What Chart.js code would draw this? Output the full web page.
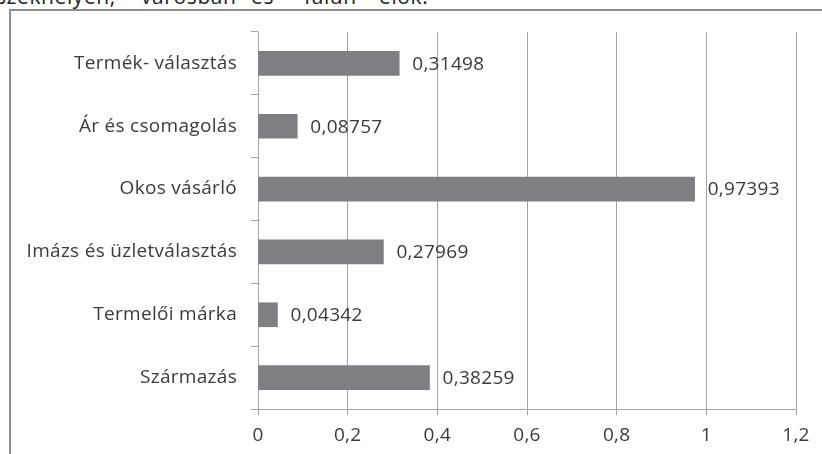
<!DOCTYPE html>
<html>
<head>
<meta charset="utf-8">
<script src="https://cdn.jsdelivr.net/npm/chart.js@4/dist/chart.umd.min.js"></script>
<style>
  html, body { margin: 0; padding: 0; background: #fff; }
  body { width: 822px; height: 454px; position: relative; overflow: hidden; }
  .frame {
    position: absolute; left: 9px; top: 9px; width: 830px; height: 460px;
    border-top: 2px solid #8e8e8e; border-left: 2px solid #8e8e8e;
  }
  .caption { position: absolute; top: -18px; left: 0; width: 822px; height: 30px;
    font-family: "Open Sans", sans-serif; font-size: 21px; letter-spacing: 0.6px; color: #222; }
  .caption span { position: absolute; top: 0; white-space: nowrap; }
  #chart { position: absolute; left: 0; top: 0; }
</style>
</head>
<body>
<div class="caption">
  <span style="left:-4px">székhelyen,</span>
  <span style="left:141px">városban</span>
  <span style="left:251px">és</span>
  <span style="left:304px">falun</span>
  <span style="left:379px">élők.</span>
</div>
<div class="frame"></div>
<canvas id="chart" width="822" height="454"></canvas>
<script>
const categories = [
  "Termék- választás",
  "Ár és csomagolás",
  "Okos vásárló",
  "Imázs és üzletválasztás",
  "Termelői márka",
  "Származás"
];
const values = [0.31498, 0.08757, 0.97393, 0.27969, 0.04342, 0.38259];
const xTicks = [0, 0.2, 0.4, 0.6, 0.8, 1, 1.2];

const FONT = { family: "'Open Sans', sans-serif", size: 19 };
const SPACING = "0.3px";
const TEXT = "#3a3a3a";
const GRID = "#a3a3a3";

const toComma = v => String(v).replace(".", ",");

// Slightly wider letter spacing for all canvas text
const spacing = {
  id: "spacing",
  beforeDraw(chart) { chart.ctx.letterSpacing = SPACING; }
};

// Writes each bar's value just past its end
const valueLabels = {
  id: "valueLabels",
  afterDatasetsDraw(chart) {
    const ctx = chart.ctx;
    const meta = chart.getDatasetMeta(0);
    ctx.save();
    ctx.letterSpacing = SPACING;
    ctx.font = FONT.size + "px " + FONT.family;
    ctx.fillStyle = TEXT;
    ctx.textAlign = "left";
    ctx.textBaseline = "middle";
    meta.data.forEach((bar, i) => {
      ctx.fillText(values[i].toFixed(5).replace(".", ","), bar.x + 13, bar.y + 1);
    });
    ctx.restore();
  }
};

new Chart(document.getElementById("chart"), {
  type: "bar",
  data: {
    labels: categories,
    datasets: [{
      data: values,
      backgroundColor: "#7f7f83",
      borderWidth: 0,
      barThickness: 24
    }]
  },
  options: {
    indexAxis: "y",
    responsive: false,
    animation: false,
    devicePixelRatio: 1,
    layout: { padding: { left: 0, top: 32, right: 26, bottom: 0 } },
    plugins: { legend: { display: false }, tooltip: { enabled: false } },
    scales: {
      x: {
        min: 0, max: 1.2,
        afterBuildTicks(scale) { scale.ticks = xTicks.map(v => ({ value: v })); },
        afterFit(scale) { scale.height = 45; },
        grid: { color: GRID, lineWidth: 1, tickLength: 6, drawTicks: true },
        border: { color: GRID, width: 1 },
        ticks: {
          color: TEXT, font: FONT, padding: 9,
          callback: v => toComma(Math.round(v * 10) / 10)
        }
      },
      y: {
        afterFit(scale) { scale.width = 258; },
        grid: { drawOnChartArea: false, offset: true, color: GRID, tickLength: 7 },
        border: { color: GRID, width: 1 },
        ticks: { color: TEXT, font: FONT, padding: 14 }
      }
    }
  },
  plugins: [spacing, valueLabels]
});
</script>
</body>
</html>
